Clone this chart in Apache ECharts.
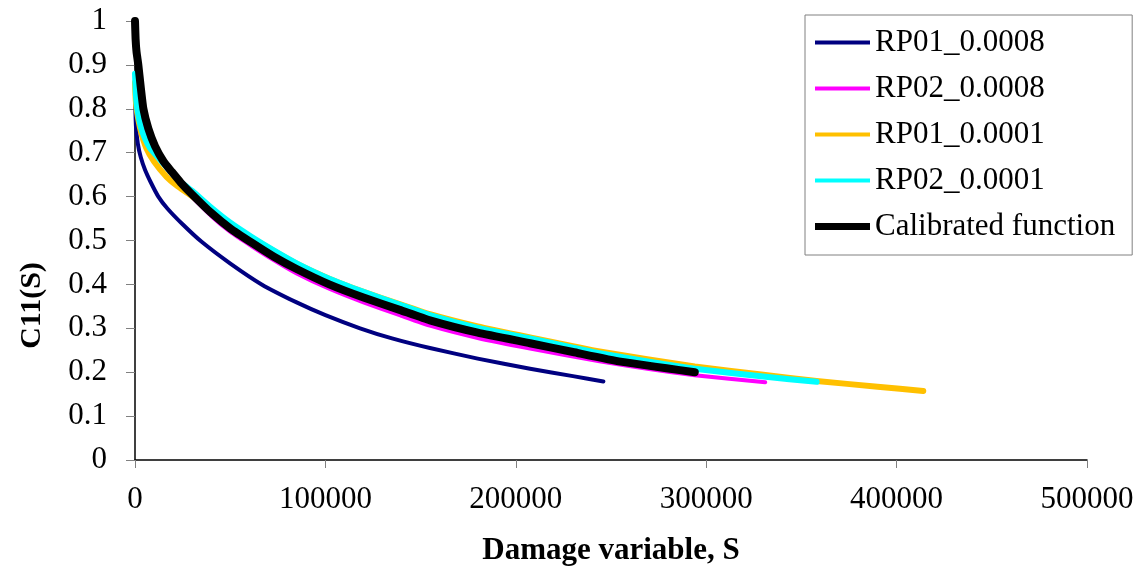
<!DOCTYPE html>
<html>
<head>
<meta charset="utf-8">
<script src="https://cdn.jsdelivr.net/npm/echarts@6/dist/echarts.min.js"></script>
<style>
  html, body { margin: 0; padding: 0; background: #fff; }
  #main { width: 1141px; height: 572px; }
</style>
</head>
<body>
<div id="main"></div>
<script>
// damage variable S (x) and C11(S) (y)
var rp01_0008_S = [0, 500, 1500, 3000, 5250, 8000, 12250, 17000, 25000, 35000, 49900, 66500, 84900, 100000, 118200, 135000, 154900, 180000, 207500, 230000, 246000];
var rp01_0008_C = [0.83, 0.76, 0.72, 0.69, 0.661, 0.635, 0.60, 0.573, 0.537, 0.497, 0.448, 0.40, 0.359, 0.33, 0.30, 0.277, 0.255, 0.231, 0.208, 0.191, 0.179];

var rp02_0008_S = [0, 800, 2000, 4400, 7000, 10500, 15000, 19250, 24000, 29750, 40000, 49900, 61300, 73000, 84900, 102000, 120000, 139000, 154900, 180000, 207500, 244000, 270000, 294000, 331000];
var rp02_0008_C = [0.85, 0.82, 0.79, 0.76, 0.73, 0.70, 0.673, 0.65, 0.625, 0.6, 0.556, 0.52, 0.487, 0.455, 0.425, 0.39, 0.359, 0.33, 0.306, 0.278, 0.254, 0.225, 0.207, 0.193, 0.177];

var rp01_0001_S = [0, 400, 1000, 3000, 6000, 10000, 16600, 22000, 28000, 35000, 49900, 61300, 84900, 102000, 120000, 139000, 154900, 180000, 207500, 244000, 294000, 330000, 358000, 390000, 414000];
var rp01_0001_C = [0.86, 0.82, 0.795, 0.75, 0.71, 0.68, 0.645, 0.625, 0.607, 0.585, 0.537, 0.506, 0.447, 0.413, 0.383, 0.355, 0.332, 0.304, 0.279, 0.247, 0.213, 0.194, 0.18, 0.167, 0.157];

var rp02_0001_S = [0, 500, 1200, 3000, 5000, 8000, 12000, 16000, 20000, 25000, 30000, 40000, 49900, 61300, 73000, 84900, 102000, 120000, 139000, 154900, 180000, 207500, 230000, 244000, 270000, 294000, 330000, 358000];
var rp02_0001_C = [0.88, 0.83, 0.80, 0.76, 0.735, 0.71, 0.69, 0.67, 0.65, 0.63, 0.613, 0.575, 0.541, 0.508, 0.477, 0.448, 0.413, 0.383, 0.354, 0.33, 0.301, 0.277, 0.256, 0.243, 0.224, 0.208, 0.19, 0.178];

var calib_S = [0, 300, 800, 1750, 3000, 4400, 7000, 10500, 15000, 19250, 24000, 29750, 40000, 49900, 61300, 73000, 84900, 102000, 120000, 139000, 154900, 180000, 207500, 230000, 255000, 294000];
var calib_C = [1.0, 0.96, 0.93, 0.90, 0.85, 0.80, 0.755, 0.715, 0.68, 0.657, 0.632, 0.606, 0.563, 0.528, 0.495, 0.463, 0.435, 0.40, 0.37, 0.342, 0.318, 0.29, 0.266, 0.246, 0.224, 0.20];

var seriesNames = ["RP01_0.0008", "RP02_0.0008", "RP01_0.0001", "RP02_0.0001", "Calibrated function"];

function pairs(xs, ys) {
  return xs.map(function (x, i) { return [x, ys[i]]; });
}

var font = "Liberation Serif";

var myChart = echarts.init(document.getElementById("main"));
var option;

function line(name, xs, ys, color, width) {
  return {
    name: name,
    type: "line",
    data: pairs(xs, ys),
    showSymbol: false,
    symbol: "none",
    smooth: 0.15,
    lineStyle: { color: color, width: width, cap: "round", join: "round" },
    itemStyle: { color: color },
    animation: false,
  };
}

var thin = "path://M0,0H55V4H0Z";
var thick = "path://M0,0H55V7H0Z";

option = {
  backgroundColor: "#fff",
  textStyle: { fontFamily: font },
  grid: { left: 135, right: 54, top: 21, bottom: 112, containLabel: false },
  legend: {
    orient: "vertical",
    left: 805,
    top: 15,
    padding: [12, 17, 13, 10],
    itemGap: 15,
    itemWidth: 55,
    itemHeight: 30,
    borderColor: "#808080",
    borderWidth: 1,
    textStyle: { fontFamily: font, fontSize: 31, color: "#000" },
    data: [
      { name: seriesNames[0], icon: thin },
      { name: seriesNames[1], icon: thin },
      { name: seriesNames[2], icon: thin },
      { name: seriesNames[3], icon: thin },
      { name: seriesNames[4], icon: thick },
    ],
  },
  xAxis: {
    type: "value",
    min: 0,
    max: 500000,
    interval: 100000,
    name: "Damage variable, S",
    nameLocation: "middle",
    nameGap: 75,
    nameTextStyle: { fontFamily: font, fontSize: 31, fontWeight: "bold", color: "#000", verticalAlign: "top" },
    axisLine: { lineStyle: { color: "#000", width: 1.5 } },
    axisTick: { length: 8, lineStyle: { color: "#808080" } },
    axisLabel: {
      margin: 24,
      fontFamily: font,
      fontSize: 31,
      color: "#000",
      formatter: function (v) { return String(v); },
    },
    splitLine: { show: false },
  },
  yAxis: {
    type: "value",
    min: 0,
    max: 1,
    interval: 0.1,
    name: "C11(S)",
    nameLocation: "middle",
    nameGap: 88,
    nameTextStyle: { fontFamily: font, fontSize: 30, fontWeight: "bold", color: "#000", padding: [0, 130, 0, 0] },
    axisLine: { show: true, lineStyle: { color: "#000", width: 1.5 } },
    axisTick: { show: true, length: 9, lineStyle: { color: "#808080" } },
    axisLabel: { margin: 28, fontFamily: font, fontSize: 31, color: "#000" },
    splitLine: { show: false },
  },
  series: [
    line(seriesNames[0], rp01_0008_S, rp01_0008_C, "#000080", 4),
    line(seriesNames[1], rp02_0008_S, rp02_0008_C, "#ff00ff", 4),
    line(seriesNames[2], rp01_0001_S, rp01_0001_C, "#ffc000", 6),
    line(seriesNames[3], rp02_0001_S, rp02_0001_C, "#00ffff", 6),
    line(seriesNames[4], calib_S, calib_C, "#000000", 8),
  ],
};

option && myChart.setOption(option);
</script>
</body>
</html>
